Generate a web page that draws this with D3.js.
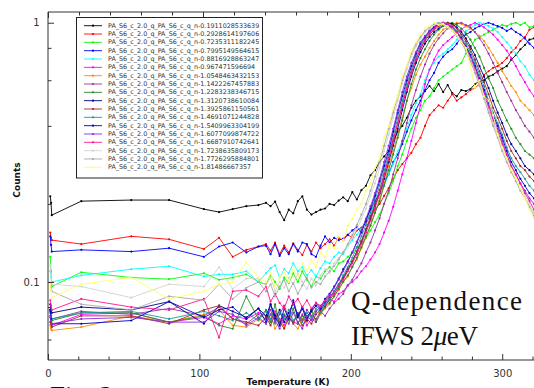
<!DOCTYPE html>
<html>
<head>
<meta charset="utf-8">
<script src="https://cdn.jsdelivr.net/npm/d3@7"></script>
<style>
  html, body { margin: 0; padding: 0; background: #fff; }
  svg { display: block; }
</style>
</head>
<body>
<div id="chart"></div>
<script>
// temperatures (K) shared by every series
const temps = [1.5, 2, 2.5, 22, 55, 80, 103, 113, 122, 131, 139,
  144, 147, 150, 153, 156, 159, 162, 165, 168, 171,
  174, 177, 180, 183, 186, 189, 192, 195, 198, 201,
  204, 207, 210, 213, 216, 219, 222, 225, 228, 231,
  234, 237, 240, 243, 246, 249, 252, 255, 258, 261,
  264, 267, 270, 273, 276, 279, 282, 285, 288, 291,
  294, 297, 300, 303, 306, 309, 312, 315, 318, 321];

const qValues = ['0.1911028533639', '0.2928614197606', '0.7235311182245', '0.7995149564615',
  '0.8816928863247', '0.967471596694', '1.0548463432153', '1.1422267457883',
  '1.2283238346715', '1.3120738610084', '1.3925861150561', '1.4691071244828',
  '1.5409963304199', '1.6077099874722', '1.6687910742641', '1.7238635809173',
  '1.7726295884801', '1.81486667357'];

const colors = ['#000000', '#ff0000', '#00ff00', '#0000ff', '#00ffff', '#ff00ff',
  '#ff8c00', '#993399', '#228b22', '#00008b', '#a52a2a', '#1a9a9a',
  '#0000cd', '#8a2be2', '#ff1493', '#d3d3d3', '#a9a9a9', '#ffff66'];

const q019 = [0.214, 0.202, 0.181, 0.205, 0.207, 0.207, 0.191, 0.186, 0.191, 0.196, 0.198,
  0.202, 0.196, 0.204, 0.186, 0.173, 0.19, 0.184, 0.205, 0.214, 0.19,
  0.182, 0.186, 0.19, 0.192, 0.2, 0.198, 0.206, 0.212, 0.205, 0.222,
  0.208, 0.226, 0.235, 0.258, 0.27, 0.29, 0.305, 0.32, 0.35, 0.38,
  0.4, 0.43, 0.47, 0.5, 0.52, 0.545, 0.57, 0.545, 0.58, 0.54,
  0.575, 0.535, 0.52, 0.55, 0.545, 0.555, 0.58, 0.595, 0.6, 0.62,
  0.63, 0.65, 0.665, 0.68, 0.72, 0.75, 0.79, 0.82, 0.86, 0.87];
const q029 = [0.155, 0.148, 0.145, 0.14, 0.15, 0.146, 0.134, 0.148, 0.125, 0.133, 0.137,
  0.14, 0.132, 0.142, 0.128, 0.138, 0.13, 0.141, 0.133, 0.127, 0.139,
  0.131, 0.142, 0.135, 0.14, 0.146, 0.138, 0.148, 0.145, 0.152, 0.148,
  0.158, 0.162, 0.17, 0.18, 0.19, 0.2, 0.215, 0.23, 0.25, 0.27,
  0.285, 0.3, 0.315, 0.34, 0.36, 0.4, 0.44, 0.46, 0.48, 0.47,
  0.5, 0.53, 0.5, 0.515, 0.53, 0.55, 0.56, 0.58, 0.63, 0.65,
  0.67, 0.68, 0.7, 0.73, 0.77, 0.8, 0.85, 0.88, 0.94, 0.96];
const q072 = [0.125, 0.11, 0.096, 0.109, 0.104, 0.1025, 0.108, 0.102, 0.104, 0.107, 0.1,
  0.098, 0.106, 0.1, 0.094, 0.104, 0.099, 0.108, 0.1, 0.11, 0.102,
  0.096, 0.105, 0.103, 0.11, 0.114, 0.11, 0.118, 0.12, 0.125, 0.13,
  0.136, 0.14, 0.148, 0.158, 0.17, 0.182, 0.2, 0.22, 0.245, 0.28,
  0.31, 0.35, 0.39, 0.43, 0.46, 0.5, 0.52, 0.56, 0.6, 0.62,
  0.64, 0.66, 0.68, 0.7, 0.76, 0.8, 0.86, 0.88, 0.9, 0.92,
  0.94, 0.96, 0.98, 0.97, 0.99, 1.0, 0.98, 1.0, 0.96, 0.97];
const q080 = [0.15, 0.139, 0.131, 0.133, 0.131, 0.135, 0.125, 0.137, 0.142, 0.13, 0.137,
  0.138, 0.128, 0.14, 0.126, 0.135, 0.128, 0.14, 0.131, 0.142, 0.14,
  0.128, 0.125, 0.138, 0.15, 0.142, 0.148, 0.145, 0.147, 0.152, 0.158,
  0.163, 0.155, 0.175, 0.19, 0.205, 0.22, 0.24, 0.26, 0.29, 0.31,
  0.34, 0.38, 0.42, 0.46, 0.5, 0.55, 0.6, 0.64, 0.7, 0.74,
  0.77, 0.79, 0.83, 0.88, 0.9, 0.92, 0.95, 0.97, 0.99, 1.0,
  0.985, 0.97, 0.955, 0.93, 0.95, 0.92, 0.9, 0.87, 0.83, 0.8];
const q088 = [0.11, 0.105, 0.1, 0.106, 0.112, 0.115, 0.105, 0.107, 0.107, 0.11, 0.1,
  0.108, 0.113, 0.116, 0.104, 0.112, 0.108, 0.118, 0.11, 0.114, 0.106,
  0.111, 0.105, 0.113, 0.12, 0.118, 0.125, 0.13, 0.128, 0.138, 0.145,
  0.152, 0.16, 0.172, 0.185, 0.2, 0.215, 0.235, 0.26, 0.285, 0.32,
  0.35, 0.39, 0.44, 0.49, 0.53, 0.6, 0.66, 0.7, 0.74, 0.76,
  0.79, 0.82, 0.86, 0.88, 0.93, 0.95, 0.98, 1.0, 0.99, 0.97,
  0.95, 0.92, 0.88, 0.84, 0.8, 0.76, 0.71, 0.68, 0.63, 0.6];
const q097 = [0.073, 0.07, 0.068, 0.075, 0.076, 0.07, 0.073, 0.069, 0.074, 0.072, 0.076,
  0.074, 0.07, 0.077, 0.072, 0.068, 0.074, 0.07, 0.069, 0.075, 0.068,
  0.072, 0.07, 0.076, 0.08, 0.086, 0.084, 0.09, 0.092, 0.097, 0.1,
  0.104, 0.11, 0.115, 0.122, 0.13, 0.14, 0.155, 0.172, 0.195, 0.225,
  0.26, 0.3, 0.35, 0.41, 0.48, 0.58, 0.66, 0.72, 0.78, 0.82,
  0.85, 0.88, 0.91, 0.94, 0.97, 0.98, 1.0, 0.98, 0.96, 0.93,
  0.9, 0.86, 0.82, 0.78, 0.73, 0.68, 0.63, 0.59, 0.55, 0.52];
const q105 = [0.068, 0.066, 0.065, 0.067, 0.074, 0.07, 0.075, 0.078, 0.068, 0.067, 0.072,
  0.069, 0.075, 0.066, 0.071, 0.067, 0.073, 0.069, 0.066, 0.072, 0.07,
  0.074, 0.077, 0.075, 0.079, 0.082, 0.088, 0.093, 0.1, 0.105, 0.115,
  0.122, 0.135, 0.148, 0.165, 0.185, 0.21, 0.24, 0.28, 0.32, 0.37,
  0.43, 0.5, 0.56, 0.63, 0.69, 0.74, 0.8, 0.85, 0.9, 0.94,
  0.96, 0.98, 1.0, 0.99, 0.97, 0.95, 0.92, 0.89, 0.85, 0.8,
  0.75, 0.7, 0.65, 0.61, 0.57, 0.54, 0.5, 0.48, 0.46, 0.44];
const q114 = [0.078, 0.074, 0.072, 0.077, 0.075, 0.079, 0.074, 0.08, 0.072, 0.069, 0.075,
  0.072, 0.078, 0.07, 0.075, 0.081, 0.073, 0.069, 0.076, 0.071, 0.078,
  0.074, 0.072, 0.077, 0.074, 0.079, 0.083, 0.086, 0.09, 0.097, 0.102,
  0.11, 0.118, 0.13, 0.142, 0.158, 0.176, 0.2, 0.225, 0.26, 0.3,
  0.35, 0.41, 0.48, 0.55, 0.62, 0.69, 0.76, 0.82, 0.87, 0.91,
  0.95, 0.97, 0.99, 1.0, 0.98, 0.96, 0.92, 0.87, 0.82, 0.76,
  0.7, 0.64, 0.59, 0.54, 0.5, 0.46, 0.43, 0.4, 0.38, 0.36];
const q123 = [0.077, 0.074, 0.071, 0.076, 0.076, 0.07, 0.074, 0.068, 0.066, 0.088, 0.072,
  0.078, 0.07, 0.082, 0.068, 0.075, 0.071, 0.079, 0.069, 0.074, 0.072,
  0.078, 0.07, 0.076, 0.08, 0.083, 0.088, 0.094, 0.1, 0.106, 0.114,
  0.124, 0.136, 0.15, 0.165, 0.185, 0.205, 0.235, 0.27, 0.31, 0.36,
  0.42, 0.5, 0.58, 0.66, 0.73, 0.79, 0.85, 0.9, 0.94, 0.97,
  0.99, 1.0, 0.98, 0.95, 0.91, 0.86, 0.8, 0.74, 0.67, 0.61,
  0.56, 0.5, 0.46, 0.42, 0.39, 0.36, 0.34, 0.32, 0.31, 0.3];
const q131 = [0.082, 0.078, 0.076, 0.08, 0.078, 0.084, 0.069, 0.081, 0.077, 0.073, 0.079,
  0.074, 0.082, 0.072, 0.078, 0.07, 0.076, 0.083, 0.073, 0.079, 0.071,
  0.077, 0.081, 0.078, 0.083, 0.087, 0.092, 0.098, 0.104, 0.112, 0.12,
  0.131, 0.143, 0.158, 0.175, 0.196, 0.22, 0.25, 0.29, 0.335, 0.39,
  0.46, 0.54, 0.62, 0.7, 0.77, 0.83, 0.88, 0.92, 0.95, 0.98,
  1.0, 0.99, 0.96, 0.92, 0.87, 0.81, 0.75, 0.68, 0.62, 0.56,
  0.5, 0.45, 0.41, 0.37, 0.34, 0.32, 0.3, 0.28, 0.27, 0.26];
const q139 = [0.07, 0.069, 0.067, 0.074, 0.074, 0.069, 0.078, 0.081, 0.072, 0.07, 0.068,
  0.073, 0.068, 0.075, 0.07, 0.066, 0.073, 0.07, 0.075, 0.068, 0.072,
  0.069, 0.075, 0.078, 0.081, 0.085, 0.09, 0.096, 0.103, 0.111, 0.12,
  0.131, 0.144, 0.16, 0.178, 0.2, 0.226, 0.26, 0.3, 0.35, 0.41,
  0.48, 0.56, 0.64, 0.72, 0.79, 0.85, 0.9, 0.94, 0.97, 0.99,
  1.0, 0.98, 0.95, 0.9, 0.85, 0.79, 0.72, 0.65, 0.59, 0.53,
  0.47, 0.43, 0.39, 0.35, 0.32, 0.3, 0.28, 0.27, 0.255, 0.245];
const q147 = [0.076, 0.074, 0.072, 0.076, 0.077, 0.072, 0.077, 0.074, 0.071, 0.076, 0.071,
  0.077, 0.072, 0.069, 0.076, 0.072, 0.078, 0.071, 0.075, 0.07, 0.076,
  0.073, 0.079, 0.076, 0.082, 0.086, 0.092, 0.098, 0.106, 0.114, 0.124,
  0.136, 0.15, 0.166, 0.185, 0.208, 0.236, 0.27, 0.31, 0.365, 0.43,
  0.5, 0.58, 0.66, 0.74, 0.81, 0.87, 0.92, 0.95, 0.98, 1.0,
  0.99, 0.97, 0.93, 0.88, 0.83, 0.77, 0.7, 0.63, 0.57, 0.5,
  0.45, 0.41, 0.37, 0.33, 0.3, 0.28, 0.265, 0.25, 0.235, 0.225];
const q154 = [0.078, 0.072, 0.069, 0.069, 0.071, 0.084, 0.073, 0.078, 0.08, 0.072, 0.079,
  0.07, 0.082, 0.074, 0.068, 0.079, 0.072, 0.085, 0.074, 0.08, 0.073,
  0.078, 0.083, 0.079, 0.086, 0.09, 0.096, 0.103, 0.112, 0.12, 0.13,
  0.142, 0.156, 0.172, 0.192, 0.215, 0.245, 0.28, 0.32, 0.38, 0.45,
  0.52, 0.6, 0.68, 0.76, 0.83, 0.88, 0.93, 0.96, 0.99, 1.0,
  0.98, 0.96, 0.92, 0.87, 0.81, 0.75, 0.68, 0.61, 0.55, 0.49,
  0.44, 0.4, 0.36, 0.32, 0.29, 0.27, 0.25, 0.235, 0.22, 0.21];
const q161 = [0.074, 0.071, 0.069, 0.072, 0.073, 0.07, 0.07, 0.077, 0.075, 0.068, 0.073,
  0.069, 0.075, 0.071, 0.066, 0.074, 0.069, 0.076, 0.07, 0.066, 0.074,
  0.071, 0.077, 0.08, 0.084, 0.089, 0.095, 0.102, 0.11, 0.119, 0.13,
  0.143, 0.158, 0.175, 0.196, 0.22, 0.25, 0.29, 0.335, 0.39, 0.46,
  0.54, 0.62, 0.7, 0.77, 0.84, 0.89, 0.93, 0.97, 0.99, 1.0,
  0.98, 0.95, 0.91, 0.86, 0.8, 0.74, 0.67, 0.6, 0.54, 0.48,
  0.43, 0.39, 0.35, 0.31, 0.28, 0.26, 0.24, 0.225, 0.21, 0.2];
const q167 = [0.085, 0.081, 0.078, 0.086, 0.08, 0.078, 0.086, 0.061, 0.092, 0.093, 0.088,
  0.096, 0.084, 0.09, 0.083, 0.079, 0.088, 0.082, 0.086, 0.08, 0.085,
  0.079, 0.083, 0.081, 0.085, 0.088, 0.09, 0.096, 0.102, 0.11, 0.118,
  0.128, 0.14, 0.155, 0.172, 0.193, 0.22, 0.255, 0.3, 0.35, 0.41,
  0.48, 0.56, 0.64, 0.72, 0.8, 0.86, 0.91, 0.95, 0.98, 1.0,
  0.99, 0.96, 0.92, 0.86, 0.8, 0.73, 0.66, 0.59, 0.53, 0.47,
  0.42, 0.38, 0.34, 0.31, 0.28, 0.26, 0.24, 0.22, 0.205, 0.19];
const q172 = [0.116, 0.106, 0.098, 0.096, 0.087, 0.098, 0.096, 0.114, 0.094, 0.103, 0.103,
  0.097, 0.104, 0.092, 0.1, 0.095, 0.104, 0.098, 0.108, 0.1, 0.094,
  0.103, 0.097, 0.106, 0.112, 0.108, 0.118, 0.124, 0.13, 0.138, 0.148,
  0.16, 0.175, 0.192, 0.215, 0.24, 0.275, 0.32, 0.37, 0.43, 0.5,
  0.58, 0.66, 0.74, 0.81, 0.87, 0.92, 0.95, 0.98, 1.0, 0.99,
  0.97, 0.94, 0.9, 0.85, 0.79, 0.72, 0.65, 0.58, 0.52, 0.46,
  0.41, 0.37, 0.33, 0.3, 0.27, 0.25, 0.23, 0.215, 0.2, 0.185];
const q177 = [0.1, 0.096, 0.092, 0.082, 0.078, 0.088, 0.085, 0.098, 0.086, 0.095, 0.1,
  0.092, 0.098, 0.088, 0.096, 0.102, 0.092, 0.099, 0.09, 0.097, 0.104,
  0.095, 0.1, 0.098, 0.105, 0.11, 0.115, 0.122, 0.13, 0.14, 0.152,
  0.166, 0.182, 0.2, 0.225, 0.255, 0.29, 0.335, 0.39, 0.45, 0.52,
  0.6, 0.68, 0.76, 0.83, 0.88, 0.93, 0.96, 0.99, 1.0, 0.98,
  0.96, 0.93, 0.89, 0.84, 0.78, 0.71, 0.64, 0.57, 0.51, 0.45,
  0.4, 0.36, 0.32, 0.29, 0.265, 0.245, 0.225, 0.21, 0.195, 0.18];
const q181 = [0.1, 0.092, 0.087, 0.098, 0.104, 0.086, 0.092, 0.098, 0.1, 0.119, 0.104,
  0.1, 0.108, 0.096, 0.104, 0.11, 0.1, 0.112, 0.104, 0.118, 0.11,
  0.122, 0.114, 0.13, 0.124, 0.14, 0.135, 0.15, 0.145, 0.165, 0.175,
  0.19, 0.2, 0.225, 0.24, 0.275, 0.3, 0.36, 0.4, 0.47, 0.52,
  0.62, 0.68, 0.78, 0.84, 0.9, 0.95, 0.97, 1.0, 0.98, 0.99,
  0.96, 0.93, 0.9, 0.84, 0.8, 0.68, 0.56, 0.6, 0.52, 0.5,
  0.44, 0.37, 0.33, 0.3, 0.27, 0.25, 0.23, 0.21, 0.19, 0.175];

const seriesValues = [q019, q029, q072, q080, q088, q097, q105, q114, q123,
  q131, q139, q147, q154, q161, q167, q172, q177, q181];

const outerWidth = 534;
const outerHeight = 388;
const plot = { left: 48, top: 12, right: 534, bottom: 360 };

const svg = d3.select('#chart')
  .append('svg')
    .attr('width', outerWidth)
    .attr('height', outerHeight)
    .attr('viewBox', `0 0 ${outerWidth} ${outerHeight}`);

svg.append('rect')
    .attr('width', outerWidth)
    .attr('height', outerHeight)
    .attr('fill', '#fff');

const x = d3.scaleLinear().domain([0, 321]).range([plot.left, plot.right]);
// the upper spine carries its own, slightly wider tick spacing
const xTop = d3.scaleLinear().domain([0, 313.5]).range([plot.left, plot.right]);
const y = d3.scaleLog().domain([0.05, 1.1]).range([plot.bottom, plot.top]);

svg.append('defs').append('clipPath')
    .attr('id', 'plot-clip')
  .append('rect')
    .attr('x', plot.left)
    .attr('y', plot.top)
    .attr('width', plot.right - plot.left)
    .attr('height', plot.bottom - plot.top);

// series
const line = d3.line()
  .x(d => x(d[0]))
  .y(d => y(d[1]));

const series = seriesValues.map((vals, i) => ({
  name: 'PA_S6_c_2.0_q_PA_S6_c_q_n-' + qValues[i],
  color: colors[i],
  points: vals.map((v, j) => [temps[j], v])
}));

const plotArea = svg.append('g').attr('clip-path', 'url(#plot-clip)');

series.forEach(s => {
  const g = plotArea.append('g');
  g.append('path')
      .attr('d', line(s.points))
      .attr('fill', 'none')
      .attr('stroke', s.color)
      .attr('stroke-width', 0.9);
  g.selectAll('circle')
    .data(s.points)
    .enter()
    .append('circle')
      .attr('cx', d => x(d[0]))
      .attr('cy', d => y(d[1]))
      .attr('r', 1.1)
      .attr('fill', s.color);
});

// axes
const axisColor = '#333';
const styleAxis = g => {
  g.select('.domain').remove();
  g.selectAll('line').attr('stroke', axisColor);
  g.selectAll('text')
      .attr('font-family', 'DejaVu Sans')
      .attr('font-size', '10px')
      .attr('fill', '#333');
};

svg.append('g')
    .attr('transform', `translate(0,${plot.bottom})`)
    .call(d3.axisBottom(x).tickValues([0, 100, 200, 300]).tickSize(-6).tickPadding(9.5).tickFormat(d3.format('d')))
    .call(styleAxis);
svg.append('g')
    .attr('transform', `translate(0,${plot.bottom})`)
    .call(d3.axisBottom(x).tickValues(d3.range(20, 321, 20).filter(t => t % 100)).tickSize(-3.5).tickFormat(''))
    .call(styleAxis);

svg.append('g')
    .attr('transform', `translate(0,${plot.top})`)
    .call(d3.axisTop(xTop).tickValues([0, 100, 200, 300]).tickSize(-6).tickFormat(''))
    .call(styleAxis);
svg.append('g')
    .attr('transform', `translate(0,${plot.top})`)
    .call(d3.axisTop(xTop).tickValues(d3.range(20, 313, 20).filter(t => t % 100)).tickSize(-3.5).tickFormat(''))
    .call(styleAxis);

svg.append('g')
    .attr('transform', `translate(${plot.left},0)`)
    .call(d3.axisLeft(y).tickValues([0.1, 1]).tickSize(-6).tickPadding(8.5).tickFormat(d => d === 1 ? '1' : '0.1'))
    .call(styleAxis);
svg.append('g')
    .attr('transform', `translate(${plot.left},0)`)
    .call(d3.axisLeft(y).tickValues([0.06, 0.08, 0.2, 0.4, 0.6, 0.8]).tickSize(-3.5).tickFormat(''))
    .call(styleAxis);

// spines
svg.append('path')
    .attr('d', `M${plot.right},${plot.top}H${plot.left}V${plot.bottom}H${plot.right}`)
    .attr('fill', 'none')
    .attr('stroke', axisColor)
    .attr('stroke-width', 1);

svg.append('text')
    .attr('transform', 'translate(17,180) rotate(-90)')
    .attr('text-anchor', 'middle')
    .attr('dominant-baseline', 'central')
    .attr('font-family', 'DejaVu Sans')
    .attr('font-weight', 'bold')
    .attr('font-size', '9px')
    .attr('fill', '#111')
    .text('Counts');

svg.append('text')
    .attr('x', 288)
    .attr('y', 385)
    .attr('text-anchor', 'middle')
    .attr('font-family', 'DejaVu Sans')
    .attr('font-weight', 'bold')
    .attr('font-size', '9px')
    .attr('fill', '#111')
    .text('Temperature (K)');

// legend
const legend = svg.append('g');
legend.append('rect')
    .attr('x', 76.5)
    .attr('y', 17.5)
    .attr('width', 186)
    .attr('height', 160.5)
    .attr('fill', '#fff')
    .attr('stroke', '#222')
    .attr('stroke-width', 1);

const rows = legend.selectAll('g.row')
  .data(series)
  .enter()
  .append('g')
    .attr('class', 'row')
    .attr('transform', (d, i) => `translate(0,${25.7 + 8.33 * i})`);

rows.append('line')
    .attr('x1', 84)
    .attr('x2', 102)
    .attr('stroke', d => d.color)
    .attr('stroke-width', 0.9);
rows.append('circle')
    .attr('cx', 93)
    .attr('r', 1.1)
    .attr('fill', d => d.color);
rows.append('text')
    .attr('x', 108)
    .attr('dominant-baseline', 'central')
    .attr('font-family', 'DejaVu Sans')
    .attr('font-size', '6.4px')
    .attr('fill', '#333')
    .text(d => d.name);

// annotations
const serif = 'Liberation Serif';
svg.append('text')
    .attr('x', 351)
    .attr('y', 310)
    .attr('font-family', serif)
    .attr('font-size', '27px')
    .attr('fill', '#111')
    .attr('textLength', 171)
    .attr('lengthAdjust', 'spacing')
    .text('Q-dependence');

const ifws = svg.append('text')
    .attr('x', 351)
    .attr('y', 345)
    .attr('font-family', serif)
    .attr('font-size', '27px')
    .attr('fill', '#111')
    .attr('textLength', 127)
    .attr('lengthAdjust', 'spacing');
ifws.append('tspan').text('IFWS 2');
ifws.append('tspan').attr('font-style', 'italic').text('\u03bc');
ifws.append('tspan').text('eV');

// caption of the source figure, cut by the bottom edge as in the original
svg.append('text')
    .attr('x', 50)
    .attr('y', 404.5)
    .attr('font-family', serif)
    .attr('font-size', '27px')
    .attr('fill', '#111')
    .text('Fig. 2');
</script>
</body>
</html>
